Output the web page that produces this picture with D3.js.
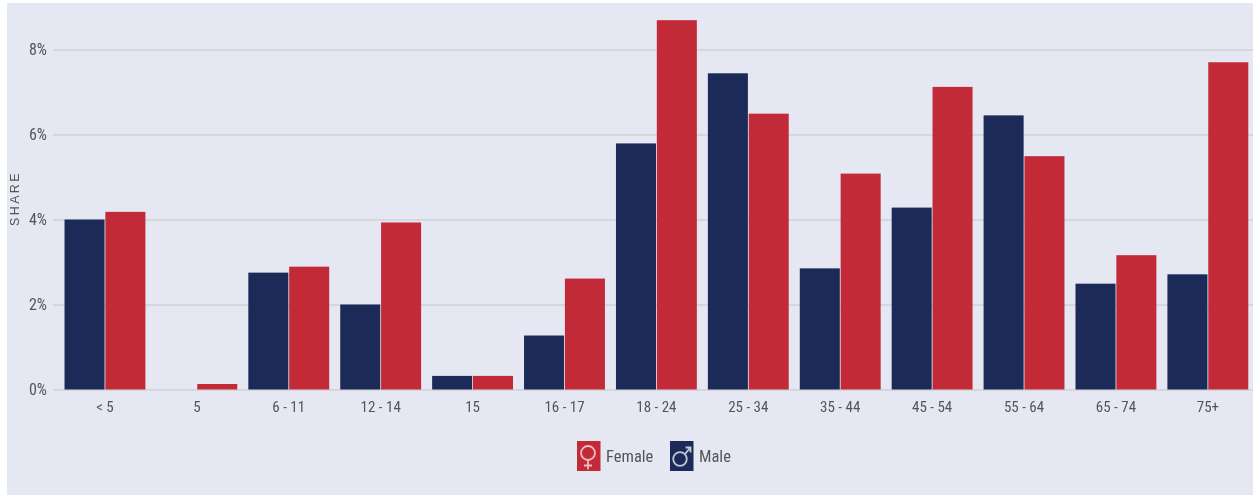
<!DOCTYPE html>
<html><head><meta charset="utf-8">
<script src="https://cdn.jsdelivr.net/npm/d3@7"></script>
<style>
html,body{margin:0;padding:0;background:#fff;overflow:hidden}
svg{display:block;filter:blur(0.55px)}
text{font-family:"Liberation Sans Narrow","Roboto Condensed","Liberation Sans",sans-serif;fill:#555}
</style></head><body>
<svg id="c" width="1253" height="495"></svg>
<script>
const categories=["< 5","5","6 - 11","12 - 14","15","16 - 17","18 - 24","25 - 34","35 - 44","45 - 54","55 - 64","65 - 74","75+"];
const maleValues=[4.0,0,2.75,2.0,0.32,1.27,5.79,7.44,2.85,4.28,6.45,2.49,2.71];
const femaleValues=[4.18,0.13,2.89,3.93,0.32,2.61,8.69,6.49,5.08,7.12,5.49,3.16,7.7];
const yTicks=[0,2,4,6,8];
const seriesNames=["Male","Female"];
const seriesColors=["#1b2a56","#c22a38"];
const legendItems=[
 {name:"Female",color:"#c22a38",ink:"#eeb9bf",cx:11,cy:12,r:7,path:"M11 19V28.5M7 24.5H15"},
 {name:"Male",color:"#1b2a56",ink:"#c3c8d8",cx:10,cy:18,r:6.8,path:"M15 13L20.5 6.5M15.5 6.5H20.5V11.5"}
];

const svg=d3.select("#c");
svg.append("rect").attr("x",7).attr("y",3).attr("width",1246).attr("height",492).attr("fill","#e5e8f3");
const x=d3.scaleBand().domain(categories).range([59,1253.8]).paddingInner(0.12).paddingOuter(0.06);
const x1=d3.scaleBand().domain(seriesNames).range([0,x.bandwidth()]).paddingInner(0.02);
const y=d3.scaleLinear().domain([0,8]).range([389.5,49.5]);

const yAxis=d3.axisLeft(y).tickValues(yTicks).tickFormat(d=>d+"%").tickSize(0).tickPadding(6);
const yG=svg.append("g").attr("transform","translate(53,0)").call(yAxis);
yG.select(".domain").remove();
yG.selectAll("text").style("font-size","16px").attr("dy","0.3em");
yG.selectAll(".tick line").attr("x2",1200).attr("stroke","#d6d7dd").attr("stroke-width",2);

const series=[maleValues,femaleValues];
seriesNames.forEach((name,i)=>{
  svg.append("g").selectAll("rect").data(categories).join("rect")
    .attr("x",c=>x(c)+x1(name))
    .attr("width",x1.bandwidth())
    .attr("y",(c,j)=>y(series[i][j]))
    .attr("height",(c,j)=>y(0)-y(series[i][j]))
    .attr("fill",seriesColors[i]);
});

const xAxis=d3.axisBottom(x).tickSize(0).tickPadding(12);
const xG=svg.append("g").attr("transform","translate(0,389.5)").call(xAxis);
xG.select(".domain").remove();
xG.selectAll("text").style("font-size","15px");

svg.append("text").attr("transform","translate(19,198.5) rotate(-90)").attr("text-anchor","middle")
  .style("font-family","'Liberation Sans',sans-serif").style("font-size","12.5px").style("letter-spacing","2.4px").text("SHARE");

const lx=[577,670];
legendItems.forEach((d,i)=>{
  const g=svg.append("g").attr("transform",`translate(${lx[i]},441)`);
  g.append("rect").attr("width",23.5).attr("height",30).attr("fill",d.color);
  g.append("circle").attr("cx",d.cx).attr("cy",d.cy).attr("r",d.r).attr("fill","none").attr("stroke",d.ink).attr("stroke-width",1.8);
  g.append("path").attr("d",d.path).attr("fill","none").attr("stroke",d.ink).attr("stroke-width",1.8);
  g.append("text").attr("x",29).attr("y",20.5).style("font-size","16.5px").text(d.name);
});
</script></body></html>
